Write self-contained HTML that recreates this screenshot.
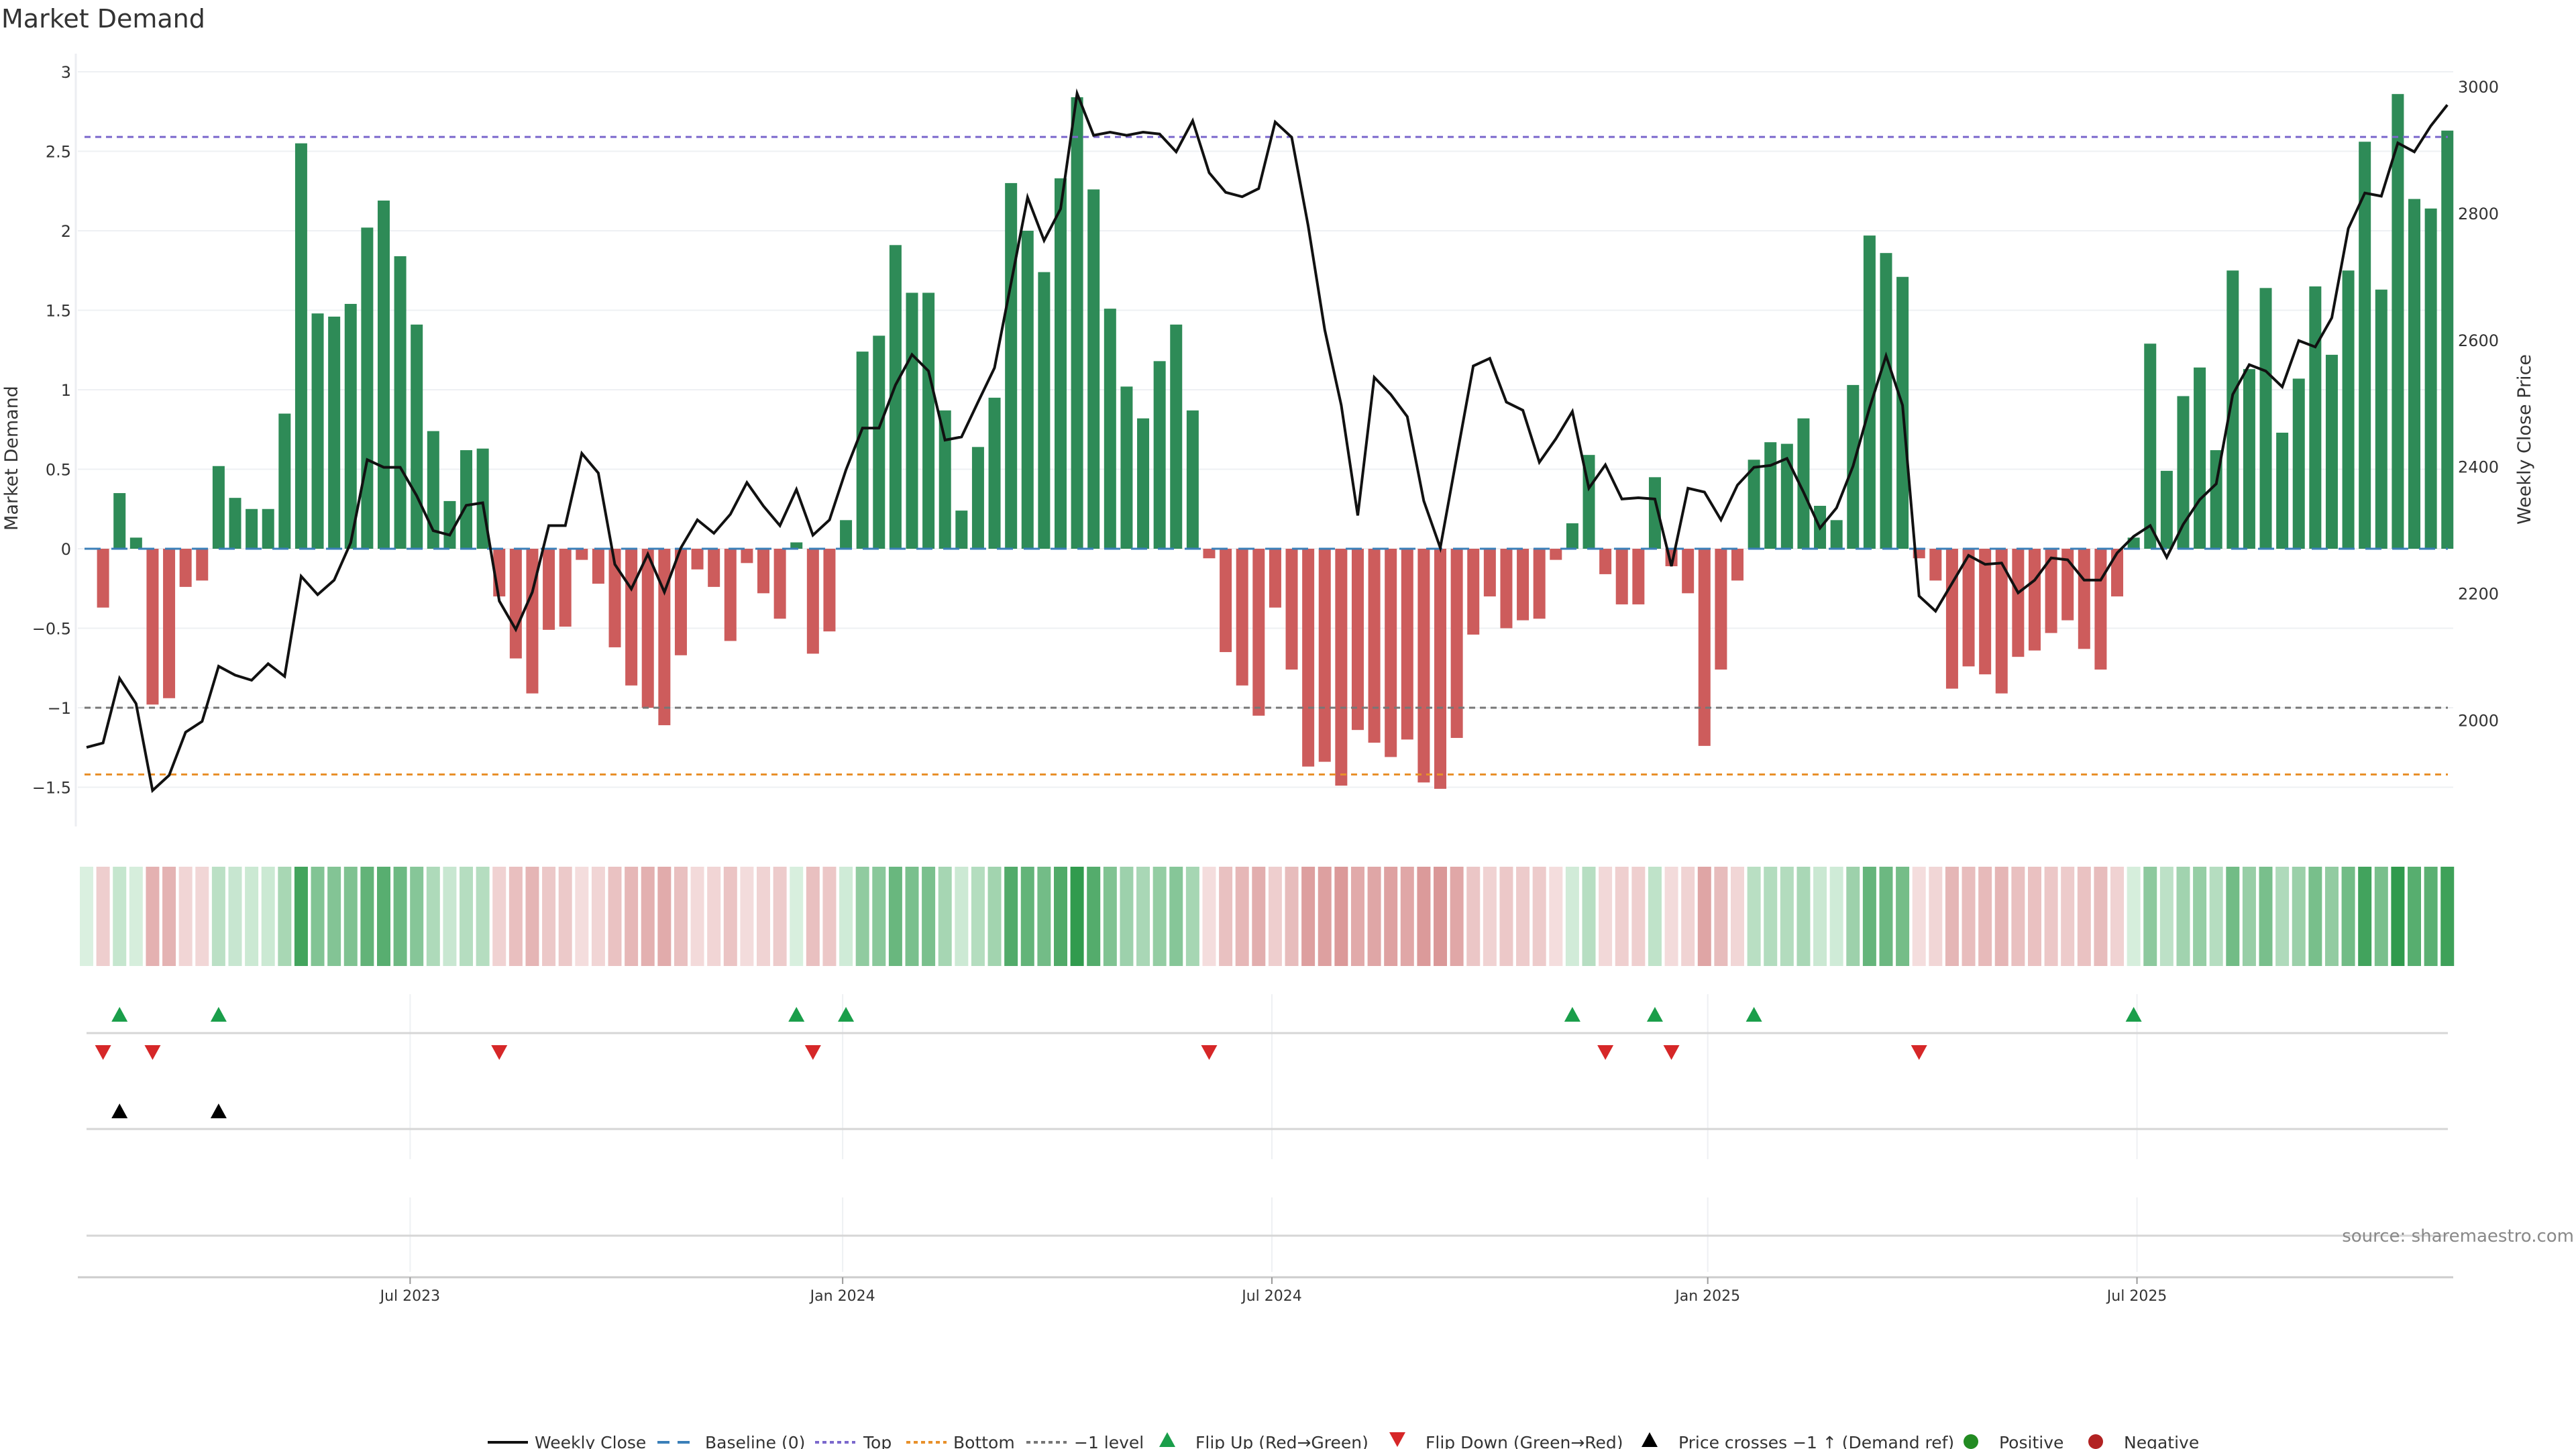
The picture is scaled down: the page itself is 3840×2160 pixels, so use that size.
<!DOCTYPE html>
<html><head><meta charset="utf-8"><style>
html,body{margin:0;padding:0;background:#fff;}
svg{display:block;font-family:"DejaVu Sans","Liberation Sans",sans-serif;}
</style></head><body>
<svg id="chart" width="3840" height="2160" viewBox="0 0 3840 2160" xmlns="http://www.w3.org/2000/svg">
<text x="2" y="41" font-size="38" fill="#333">Market Demand</text>
<g id="main"></g>
</svg>
<script>
const demandValues = [0,-0.37,0.35,0.07,-0.98,-0.94,-0.24,-0.20,0.52,0.32,0.25,0.25,0.85,2.55,1.48,1.46,1.54,2.02,2.19,1.84,1.41,0.74,0.30,0.62,0.63,-0.30,-0.69,-0.91,-0.51,-0.49,-0.07,-0.22,-0.62,-0.86,-1.00,-1.11,-0.67,-0.13,-0.24,-0.58,-0.09,-0.28,-0.44,0.04,-0.66,-0.52,0.18,1.24,1.34,1.91,1.61,1.61,0.87,0.24,0.64,0.95,2.30,2.00,1.74,2.33,2.84,2.26,1.51,1.02,0.82,1.18,1.41,0.87,-0.06,-0.65,-0.86,-1.05,-0.37,-0.76,-1.37,-1.34,-1.49,-1.14,-1.22,-1.31,-1.20,-1.47,-1.51,-1.19,-0.54,-0.30,-0.50,-0.45,-0.44,-0.07,0.16,0.59,-0.16,-0.35,-0.35,0.45,-0.11,-0.28,-1.24,-0.76,-0.20,0.56,0.67,0.66,0.82,0.27,0.18,1.03,1.97,1.86,1.71,-0.06,-0.20,-0.88,-0.74,-0.79,-0.91,-0.68,-0.64,-0.53,-0.45,-0.63,-0.76,-0.30,0.07,1.29,0.49,0.96,1.14,0.62,1.75,1.13,1.64,0.73,1.07,1.65,1.22,1.75,2.56,1.63,2.86,2.20,2.14,2.63];
const weeklyClose = [1957,1964,2066,2026,1889,1913,1981,1998,2085,2071,2063,2089,2069,2227,2198,2221,2280,2411,2399,2399,2354,2299,2292,2339,2343,2188,2143,2202,2307,2307,2421,2390,2246,2207,2262,2202,2272,2316,2295,2325,2375,2338,2307,2364,2292,2316,2395,2461,2461,2529,2577,2551,2442,2447,2502,2556,2690,2825,2757,2807,2989,2923,2928,2923,2928,2925,2897,2946,2864,2833,2826,2839,2944,2920,2780,2616,2497,2323,2541,2514,2479,2346,2272,2416,2559,2571,2502,2489,2407,2444,2487,2366,2403,2349,2351,2349,2243,2366,2360,2316,2371,2399,2402,2413,2360,2303,2335,2401,2493,2575,2497,2196,2172,2216,2260,2246,2248,2201,2221,2256,2253,2221,2221,2264,2290,2307,2257,2309,2348,2373,2514,2561,2551,2526,2599,2589,2635,2776,2832,2827,2911,2897,2938,2971];
const crossIdx = [2, 8];
const leftTicks = [3,2.5,2,1.5,1,0.5,0,-0.5,-1,-1.5];
const leftTickLabels = ["3","2.5","2","1.5","1","0.5","0","−0.5","−1","−1.5"];
const rightTicks = [2000,2200,2400,2600,2800,3000];
const dateTickIdx = [19.6,45.8,71.8,98.2,124.2];
const dateTickLabels = ["Jul 2023","Jan 2024","Jul 2024","Jan 2025","Jul 2025"];
const refTop = 2.59, refBottom = -1.42, refMinus1 = -1;

const NS = "http://www.w3.org/2000/svg";
const g = document.getElementById('main');
function mk(tag, attrs, parent){const e=document.createElementNS(NS,tag);for(const k in attrs)e.setAttribute(k,attrs[k]);(parent||g).appendChild(e);return e;}
const x = i => 129 + i*24.61;
const y = v => 818 - v*237;
const yp = p => 1073.5 - (p-2000)*0.9445;
const XL = 116, XR = 3657;

leftTicks.forEach((t,k)=>{
  const l = mk('line',{x1:XL,x2:XR,y1:y(t),y2:y(t),stroke:'#eef0f3','stroke-width':2});
  
  
  const tx = mk('text',{x:106,y:y(t)+9,'font-size':24,'text-anchor':'end',fill:'#333'});
  tx.textContent = leftTickLabels[k];
  
  
});
const la = mk('line',{x1:XL-3,x2:XL-3,y1:80,y2:1232,stroke:'#eceef2','stroke-width':3});


rightTicks.forEach(t=>{
  const tx = mk('text',{x:3664,y:yp(t)+9,'font-size':24,fill:'#333'});
  tx.textContent = t;
  
  
});
let t1 = mk('text',{x:0,y:0,'font-size':27,fill:'#333','text-anchor':'middle',transform:'translate(26,683) rotate(-90)'});
t1.textContent='Market Demand';


let t2 = mk('text',{x:0,y:0,'font-size':27,fill:'#333','text-anchor':'middle',transform:'translate(3772,655) rotate(-90)'});
t2.textContent='Weekly Close Price';



demandValues.forEach((v,i)=>{
  if(v===0) return;
  const r = mk('rect',{x:x(i)-9,width:18,y:Math.min(y(v),y(0)),height:Math.abs(y(v)-y(0)),fill:v>0?'#2e8b57':'#cd5c5c'});
  
  
});
function ref(v,col,name){const l=mk('line',{x1:126,x2:3649,y1:y(v),y2:y(v),stroke:col,'stroke-width':3,'stroke-dasharray':'9,7'});

}
ref(refTop,'#7b68cc','top-line');
ref(refMinus1,'#777','minus1-line');
ref(refBottom,'#e8902a','bottom-line');
const bl = mk('line',{x1:126,x2:3649,y1:y(0),y2:y(0),stroke:'#3a7fb8','stroke-width':3,'stroke-dasharray':'24,16'});


const pts = weeklyClose.map((p,i)=>x(i).toFixed(1)+','+yp(p).toFixed(1)).join(' ');
const pl = mk('polyline',{points:pts,fill:'none',stroke:'#111','stroke-width':4,'stroke-linejoin':'miter'});



function heat(v){
  if(v>=0){const t=Math.min(v/3,1);return `rgb(${Math.round(218-178*t)},${Math.round(240-90*t)},${Math.round(224-154*t)})`;}
  const t=Math.min(-v/1.8,1);return `rgb(${Math.round(245-32*t)},${Math.round(224-86*t)},${Math.round(224-86*t)})`;
}
demandValues.forEach((v,i)=>{
  const r = mk('rect',{x:x(i)-10,width:20,y:1292,height:148,fill:heat(v)});
  
  
});

[[1482,1728],[1785,1896]].forEach(([a,b])=>{
  dateTickIdx.forEach(d=>{const l=mk('line',{x1:x(d),x2:x(d),y1:a,y2:b,stroke:'#eef0f3','stroke-width':2});
  
  });
});
[1540,1683,1842].forEach(yy=>{const l=mk('line',{x1:129,x2:3649,y1:yy,y2:yy,stroke:'#d6d6d6','stroke-width':3});

});
function tri(cx,cy,up,col,name){
  const p = up?`${cx-12},${cy+11} ${cx+12},${cy+11} ${cx},${cy-11}`:`${cx-12},${cy-11} ${cx+12},${cy-11} ${cx},${cy+11}`;
  const e = mk('polygon',{points:p,fill:col});
  
  
}
for(let i=1;i<demandValues.length;i++){
  if(demandValues[i]>0 && demandValues[i-1]<=0) tri(x(i),1512,true,'#1a9e4a','flip-up-marker');
  if(demandValues[i]<0 && demandValues[i-1]>=0) tri(x(i),1569,false,'#d62728','flip-down-marker');
}
crossIdx.forEach(i=>tri(x(i),1656,true,'#000','price-cross-marker'));

const xa = mk('line',{x1:XL,x2:XR,y1:1904,y2:1904,stroke:'#ccc','stroke-width':3});


dateTickIdx.forEach((d,k)=>{
  const tk=mk('line',{x1:x(d),x2:x(d),y1:1904,y2:1914,stroke:'#999','stroke-width':2});
  
  
  const tx=mk('text',{x:x(d),y:1939,'font-size':22,'text-anchor':'middle',fill:'#333'});
  tx.textContent=dateTickLabels[k];
  
  
});
const src=mk('text',{x:3837,y:1851,'font-size':26,'text-anchor':'end',fill:'#888'});
src.textContent='source: sharemaestro.com';



const LY=2150;
function legText(xx,s){const t=mk('text',{x:xx,y:LY+9,'font-size':25,fill:'#333'});t.textContent=s;

}
function legLine(xx,col,dash,w){const l=mk('line',{x1:xx,x2:xx+60,y1:LY,y2:LY,stroke:col,'stroke-width':w,'stroke-dasharray':dash});

}
legLine(727,'#111','none',4);legText(797,'Weekly Close');
legLine(980,'#3a7fb8','18,12',4);legText(1051,'Baseline (0)');
legLine(1215,'#7b68cc','6,5',4);legText(1287,'Top');
legLine(1351,'#e8902a','6,5',4);legText(1421,'Bottom');
legLine(1530,'#777','6,5',4);legText(1601,'−1 level');
tri(1740,LY-4,true,'#1a9e4a','legend-flip-up');legText(1782,'Flip Up (Red→Green)');
tri(2083,LY-4,false,'#d62728','legend-flip-down');legText(2125,'Flip Down (Green→Red)');
tri(2459,LY-4,true,'#000','legend-price-cross');legText(2502,'Price crosses −1 ↑ (Demand ref)');
let c1=mk('circle',{cx:2938,cy:LY-1,r:11,fill:'#228b22'});


legText(2980,'Positive');
let c2=mk('circle',{cx:3124,cy:LY-1,r:11,fill:'#b22222'});


legText(3166,'Negative');
</script>
</body></html>
